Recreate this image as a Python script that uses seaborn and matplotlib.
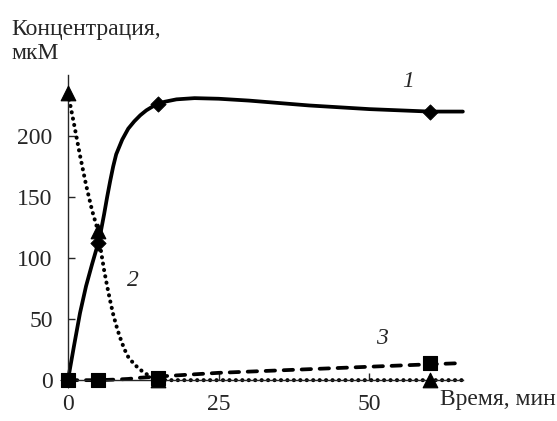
import numpy as np
import pandas as pd
import matplotlib
matplotlib.use("Agg")
import matplotlib.pyplot as plt
import seaborn as sns

# Измеренные точки (маркеры)
t_points = [0, 5, 15, 60]
c1_points = [0, 112, 226, 220]
c2_points = [235, 122, 0, 0]
c3_points = [0, 0, 2, 14]

# Сглаженные кривые
t1_curve = [0, 1, 2, 3, 4, 5, 5.5, 6, 6.5, 7, 7.5, 8, 9, 10, 11, 12, 13, 14, 15,
            16, 18, 21, 25, 30, 35, 40, 45, 50, 55, 60, 65.5]
c1_curve = [0, 28, 55, 77, 95, 112, 123, 136, 150, 163, 175, 185, 197, 206, 212,
            217, 221, 224, 226, 228, 230, 231, 230.5, 229, 227, 225, 223.5, 222,
            221, 220, 220]

t2_curve = [0, 1, 2, 3, 4, 5, 5.5, 6, 6.5, 7, 7.5, 8, 8.5, 9, 9.5, 10, 11, 12,
            13, 14, 15, 16, 17, 30, 45, 60, 65.5]
c2_curve = [235, 210, 184, 160, 139, 122, 105, 90, 77, 65, 54, 45, 37, 30, 24,
            19, 13, 8.5, 5, 2.5, 1, 0.3, 0, 0, 0, 0, 0]

t3_curve = [0, 5, 8, 10, 12, 15, 20, 25, 30, 40, 50, 60, 65.5]
c3_curve = [0, 0, 0.5, 1, 2, 3, 4.5, 6, 7, 9, 11, 13, 14]

curve_labels = ["1", "2", "3"]

sns.set_style("ticks")
plt.rcParams["font.family"] = ["Liberation Serif", "DejaVu Serif"]

fig = plt.figure(figsize=(5.57, 4.21), dpi=100)
ax = fig.add_axes([0.122, 0.097, 0.709, 0.725])

df1 = pd.DataFrame({"t": t1_curve, "c": c1_curve})
df2 = pd.DataFrame({"t": t2_curve, "c": c2_curve})
df3 = pd.DataFrame({"t": t3_curve, "c": c3_curve})

sns.lineplot(data=df1, x="t", y="c", ax=ax, color="black", lw=2.7,
             sort=False, estimator=None)
sns.lineplot(data=df2, x="t", y="c", ax=ax, color="black", lw=2.9,
             linestyle=(0, (0.05, 1.55)), sort=False, estimator=None)
sns.lineplot(data=df3, x="t", y="c", ax=ax, color="black", lw=2.7,
             linestyle=(0, (2.5, 2.3)), sort=False, estimator=None)
ax.lines[0].set_solid_joinstyle("round")
ax.lines[1].set_dash_capstyle("round")
ax.lines[2].set_dash_capstyle("round")

sns.scatterplot(x=t_points, y=c1_points, ax=ax, marker="D", s=60,
                color="black", edgecolor="black", zorder=5)
sns.scatterplot(x=t_points, y=c2_points, ax=ax, marker="^", s=110,
                color="black", edgecolor="black", zorder=5)
sns.scatterplot(x=t_points, y=c3_points, ax=ax, marker="s", s=100,
                color="black", edgecolor="black", zorder=5)
for coll in ax.collections:
    coll.set_clip_on(False)
for ln in ax.lines:
    ln.set_clip_on(False)

ax.set_xlim(0, 65.5)
ax.set_ylim(0, 250)
ax.set_xticks([0, 25, 50])
ax.set_yticks([0, 50, 100, 150, 200])
ax.tick_params(direction="in", length=5, width=1, labelsize=17)
ax.tick_params(axis="x", pad=10)
ax.tick_params(axis="y", pad=11)
ax.set_xlabel("")
ax.set_ylabel("")
sns.despine(ax=ax)
for sp in ["left", "bottom"]:
    ax.spines[sp].set_linewidth(1.0)

# Номера кривых
label_pos = [(56.4, 245), (10.7, 82), (52, 34)]
for lab, (x, y) in zip(curve_labels, label_pos):
    ax.text(x, y, lab, fontsize=17, style="italic", ha="center", va="center")

fig.text(0.02, 0.955, "Концентрация,\nмкМ", fontsize=17, ha="left", va="top",
         linespacing=1.2)
fig.text(0.79, 0.052, "Время, мин", fontsize=17, ha="left", va="center")

fig.savefig("out.png", dpi=100)
